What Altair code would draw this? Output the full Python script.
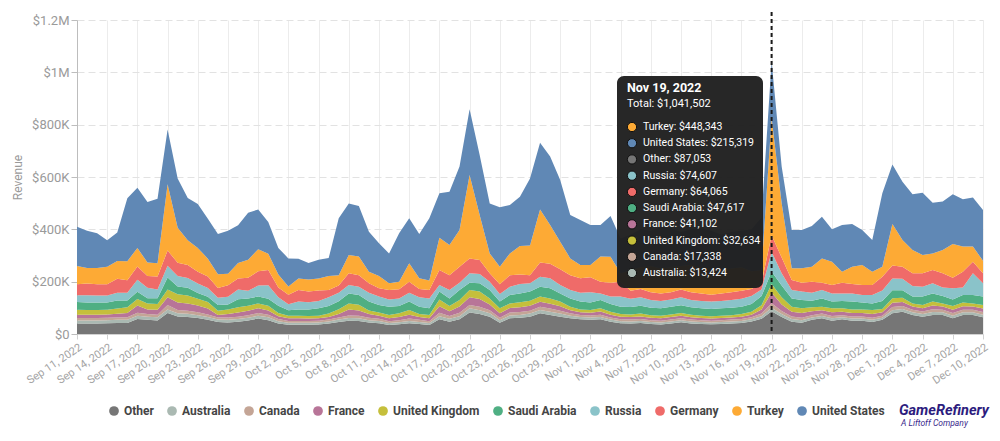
import altair as alt
import pandas as pd

# ---------------- data (revenue in thousands of USD, daily) ----------------
start_date = "2022-09-11"
end_date = "2022-12-10"
dates = pd.date_range(start_date, end_date, freq="D")

series_names = ["Other", "Australia", "Canada", "France", "United Kingdom",
                "Saudi Arabia", "Russia", "Germany", "Turkey", "United States"]
series_colors = ["#767676", "#aab9b2", "#c4a596", "#b87598", "#c5bf3b",
                 "#4faf83", "#8ac3c9", "#ef6b69", "#fdaa35", "#6088b5"]

other = [40, 40, 40, 41, 42, 42, 57, 54, 52, 80, 67, 65, 61, 54, 46, 44, 47, 52, 59, 53,
         40, 35, 35, 35, 36, 40, 46, 51, 50, 44, 41, 34, 37, 41, 38, 34, 56, 47, 56, 82,
         76, 66, 43, 60, 62, 66, 79, 73, 66, 60, 56, 54, 56, 47, 41, 40, 42, 38, 36, 40,
         45, 40, 38, 37, 38, 40, 42, 48, 58, 87.053, 65, 47, 43, 54, 60, 51, 56, 51, 51, 46,
         54, 79, 85, 73, 66, 73, 73, 60, 73, 73, 64]
australia = [12, 12, 12, 12, 12, 12, 13, 12, 12, 14, 12, 12, 11, 11, 9, 10, 10, 10, 11, 11,
             9, 8, 8, 8, 8, 8, 9, 10, 10, 9, 9, 8, 8, 9, 8, 8, 12, 11, 12, 16,
             15, 13, 10, 11, 11, 12, 13, 12, 12, 10, 9, 9, 9, 8, 8, 8, 8, 8, 8, 8,
             8, 8, 8, 7, 8, 8, 8, 8, 10, 13.424, 11, 10, 10, 9, 9, 9, 8, 8, 8, 8,
             8, 12, 11, 10, 10, 11, 10, 10, 10, 10, 10]
canada = [9, 9, 9, 9, 9, 10, 11, 10, 10, 17, 13, 12, 11, 10, 8, 9, 9, 10, 10, 10,
          8, 7, 7, 7, 7, 7, 8, 10, 10, 9, 8, 7, 8, 9, 8, 7, 13, 11, 13, 13,
          13, 12, 9, 11, 11, 11, 12, 12, 11, 9, 8, 8, 9, 8, 7, 7, 7, 7, 7, 7,
          7, 7, 7, 7, 7, 7, 7, 8, 10, 17.338, 12, 10, 9, 9, 9, 9, 8, 8, 8, 8,
          8, 12, 11, 10, 10, 11, 10, 10, 10, 10, 10]
france = [13, 13, 13, 13, 14, 16, 28, 18, 19, 29, 28, 28, 26, 22, 10, 13, 16, 17, 18, 16,
          11, 10, 10, 9, 9, 10, 13, 23, 20, 14, 12, 11, 12, 15, 11, 11, 25, 18, 24, 29,
          30, 22, 17, 17, 18, 19, 19, 19, 17, 12, 10, 10, 12, 11, 10, 10, 10, 9, 9, 10,
          10, 9, 8, 8, 8, 8, 9, 10, 16, 41.102, 25, 18, 18, 15, 13, 14, 13, 13, 13, 14,
          13, 16, 15, 12, 12, 14, 12, 13, 13, 12, 13]
united_kingdom = [19, 18, 18, 18, 20, 22, 25, 23, 22, 30, 32, 30, 26, 25, 16, 18, 20, 19, 19, 18,
                  12, 10, 10, 10, 10, 13, 19, 23, 22, 14, 12, 13, 14, 18, 11, 13, 26, 20, 25, 28,
                  28, 23, 19, 18, 19, 19, 20, 20, 18, 13, 11, 11, 12, 11, 10, 10, 11, 10, 10, 10,
                  10, 10, 9, 9, 9, 9, 10, 11, 16, 32.634, 27, 19, 18, 15, 13, 15, 13, 14, 14, 16,
                  13, 18, 17, 12, 13, 15, 12, 14, 14, 12, 14]
saudi_arabia = [29, 28, 28, 27, 31, 26, 27, 20, 22, 46, 30, 30, 22, 20, 22, 19, 31, 28, 26, 27,
                28, 21, 24, 25, 28, 29, 30, 38, 37, 34, 29, 31, 28, 32, 28, 25, 30, 29, 38, 28,
                32, 32, 26, 32, 34, 35, 38, 39, 31, 32, 30, 28, 32, 30, 28, 28, 30, 28, 28, 29,
                30, 28, 28, 28, 28, 28, 28, 30, 35, 47.617, 45, 32, 32, 25, 32, 26, 28, 30, 26, 25,
                30, 30, 28, 26, 32, 31, 28, 25, 29, 32, 32]
russia = [26, 28, 27, 27, 30, 30, 46, 40, 33, 45, 40, 37, 36, 34, 28, 29, 37, 29, 42, 51,
          32, 23, 30, 27, 28, 33, 33, 32, 32, 34, 32, 28, 29, 34, 36, 38, 25, 32, 28, 36,
          35, 32, 29, 32, 36, 32, 38, 38, 32, 32, 34, 40, 25, 28, 39, 32, 32, 30, 28, 28,
          30, 28, 28, 28, 28, 30, 31, 30, 25, 74.607, 47, 32, 32, 31, 32, 31, 29, 31, 29, 32,
          40, 45, 44, 40, 38, 39, 33, 43, 29, 83, 51]
germany = [42, 45, 43, 43, 53, 47, 51, 45, 50, 58, 50, 50, 45, 44, 37, 44, 42, 50, 55, 59,
           38, 36, 44, 41, 40, 28, 27, 45, 44, 36, 32, 36, 35, 42, 32, 32, 58, 57, 61, 57,
           54, 32, 37, 44, 36, 31, 54, 55, 60, 57, 55, 57, 45, 53, 57, 30, 32, 30, 29, 28,
           30, 30, 29, 26, 29, 30, 30, 27, 25, 64.065, 60, 38, 34, 42, 28, 32, 41, 36, 38, 38,
           53, 50, 46, 49, 51, 51, 54, 40, 60, 44, 38]
turkey = [70, 59, 62, 67, 68, 73, 71, 51, 50, 253, 134, 94, 91, 68, 52, 44, 59, 69, 84, 62,
          49, 32, 44, 46, 46, 54, 40, 70, 71, 44, 47, 26, 29, 70, 41, 36, 123, 115, 140, 319,
          172, 76, 67, 83, 109, 113, 203, 149, 106, 64, 51, 47, 96, 99, 32, 80, 83, 100, 95, 95,
          90, 105, 100, 100, 90, 90, 90, 68, 50, 448.343, 208, 45, 55, 57, 93, 89, 42, 66, 77, 51,
          38, 158, 102, 89, 70, 63, 89, 129, 96, 58, 48]
united_states = [150, 143, 133, 101, 109, 241, 230, 231, 247, 210, 188, 162, 168, 152, 154, 165, 145, 179, 152, 121,
                 102, 107, 76, 63, 72, 68, 217, 197, 193, 153, 125, 114, 185, 172, 169, 238, 170, 204, 243, 251,
                 229, 191, 227, 185, 189, 256, 255, 261, 236, 166, 172, 153, 121, 156, 133, 135, 145, 135, 160, 150,
                 130, 135, 150, 145, 135, 140, 140, 160, 200, 215.319, 140, 146, 146, 156, 159, 124, 179, 163, 133, 121,
                 281, 228, 223, 213, 238, 194, 185, 190, 181, 188, 194]

series_values = [other, australia, canada, france, united_kingdom,
                 saudi_arabia, russia, germany, turkey, united_states]

highlight_day = "2022-11-19"
y_ticks = [0, 200000, 400000, 600000, 800000, 1000000, 1200000]

# ---------------- tables built from the arrays ----------------
rows = []
for k, (name, vals) in enumerate(zip(series_names, series_values)):
    for d, v in zip(dates, vals):
        rows.append({"date": d.strftime("%Y-%m-%dT00:00:00"), "country": name,
                     "order": k, "revenue": round(v * 1000)})
df = pd.DataFrame(rows)

hl = df[df["date"].str.startswith(highlight_day)].copy()
hl = hl.sort_values("revenue", ascending=False).reset_index(drop=True)
hl["rank"] = range(len(hl))
hl["label"] = [f"{c}: ${v:,.0f}" for c, v in zip(hl["country"], hl["revenue"])]
total_hl = int(hl["revenue"].sum())

tick_dates = pd.date_range(start_date, end_date, freq="3D")
tick_vals = [alt.DateTime(year=d.year, month=d.month, date=d.day) for d in tick_dates]

FONT = "Roboto"
color_scale = alt.Scale(domain=series_names, range=series_colors)
x_scale = alt.Scale(domain=[alt.DateTime(year=2022, month=9, date=11),
                            alt.DateTime(year=2022, month=12, date=10)], nice=False)
x_axis = alt.Axis(values=tick_vals, format="%b %-d, %Y", labelAngle=-34, title=None,
                  grid=True, gridColor="#ececec", domainColor="#d2d2d2",
                  tickColor="#d2d2d2", tickSize=5, labelColor="#a3a3a3",
                  labelFont=FONT, labelFontSize=11, labelPadding=2,
                  labelOverlap=False, labelBound=False, labelSeparation=0)

area = alt.Chart(df).mark_area(opacity=1, interpolate="linear").encode(
    x=alt.X("date:T", scale=x_scale, axis=x_axis),
    y=alt.Y("revenue:Q", stack="zero",
            scale=alt.Scale(domain=[0, 1200000], nice=False),
            axis=alt.Axis(values=y_ticks, title="Revenue", grid=True, gridDash=[7, 4],
                          gridColor="#e2e2e2", domainColor="#bdbdbd", tickColor="#bdbdbd",
                          tickSize=6, labelPadding=2, labelColor="#9a9a9a", labelFont=FONT,
                          labelFontSize=13, titleColor="#9a9a9a", titleFont=FONT,
                          titleFontSize=12, titleFontWeight="normal", titlePadding=7,
                          labelOverlap=False,
                          labelExpr="datum.value == 0 ? '$0' : datum.value >= 1000000 ? '$' + format(datum.value / 1000000, '~g') + 'M' : '$' + format(datum.value / 1000, '~g') + 'K'")),
    color=alt.Color("country:N", scale=color_scale,
                    legend=alt.Legend(orient="none", legendX=31, legendY=385,
                                      direction="horizontal", title=None,
                                      symbolType="circle", symbolSize=95,
                                      symbolStrokeWidth=0, symbolOpacity=1,
                                      labelFont=FONT, labelFontWeight="bold",
                                      labelFontSize=12, labelColor="#454545",
                                      columnPadding=12, labelOffset=4)),
    order=alt.Order("order:Q", sort="ascending"),
)

rule = alt.Chart(pd.DataFrame({"date": [highlight_day + "T00:00:00"]})).mark_rule(
    color="#1a1a1a", strokeWidth=2, strokeDash=[4, 3]
).encode(x=alt.X("date:T", scale=x_scale, axis=x_axis), y=alt.value(-8), y2=alt.value(314))

box = alt.Chart(pd.DataFrame({"k": [0]})).mark_rect(
    color="#202020", cornerRadius=7, opacity=0.97
).encode(x=alt.value(540), x2=alt.value(686), y=alt.value(56), y2=alt.value(268))

head = pd.DataFrame({"t": [pd.Timestamp(highlight_day).strftime("%b %-d, %Y")]})
title_txt = alt.Chart(head).mark_text(
    align="left", baseline="middle", color="white", fontWeight="bold", fontSize=12.5, font=FONT
).encode(x=alt.value(550), y=alt.value(68), text="t:N")

tot = pd.DataFrame({"t": [f"Total: ${total_hl:,.0f}"]})
total_txt = alt.Chart(tot).mark_text(
    align="left", baseline="middle", color="white", fontSize=11, font=FONT
).encode(x=alt.value(550), y=alt.value(84), text="t:N")

item_y = alt.Y("rank:O", axis=None,
               scale=alt.Scale(domain=list(range(10)), range=[107, 253], padding=0))
dots = alt.Chart(hl).mark_circle(size=85, opacity=1, stroke="#111111", strokeWidth=1).encode(
    x=alt.value(555), y=item_y,
    color=alt.Color("country:N", scale=color_scale, legend=None))
item_txt = alt.Chart(hl).mark_text(
    align="left", baseline="middle", color="white", fontSize=10.5, font=FONT
).encode(x=alt.value(566), y=item_y, text="label:N")

logo1 = alt.Chart(pd.DataFrame({"t": ["GameRefinery"]})).mark_text(
    align="left", baseline="middle", color="#2c1c7e", fontWeight="bold", fontStyle="italic",
    fontSize=14.5, font=FONT
).encode(x=alt.value(822), y=alt.value(391), text="t:N")
logo2 = alt.Chart(pd.DataFrame({"t": ["A Liftoff Company"]})).mark_text(
    align="left", baseline="middle", color="#3a2a8c", fontStyle="italic",
    fontSize=8.5, font=FONT
).encode(x=alt.value(824), y=alt.value(403), text="t:N")

chart = alt.layer(area, rule, box, title_txt, total_txt, dots, item_txt, logo1, logo2).resolve_scale(
    y="independent"
).properties(
    width=906, height=314,
    padding={"left": 69, "top": 12, "right": 9, "bottom": 100},
    autosize=alt.AutoSizeParams(type="none"),
).configure_view(stroke=None).configure_axis(labelOverlap=False)

chart.save("out.html", embed_options={"renderer": "svg", "actions": False})
